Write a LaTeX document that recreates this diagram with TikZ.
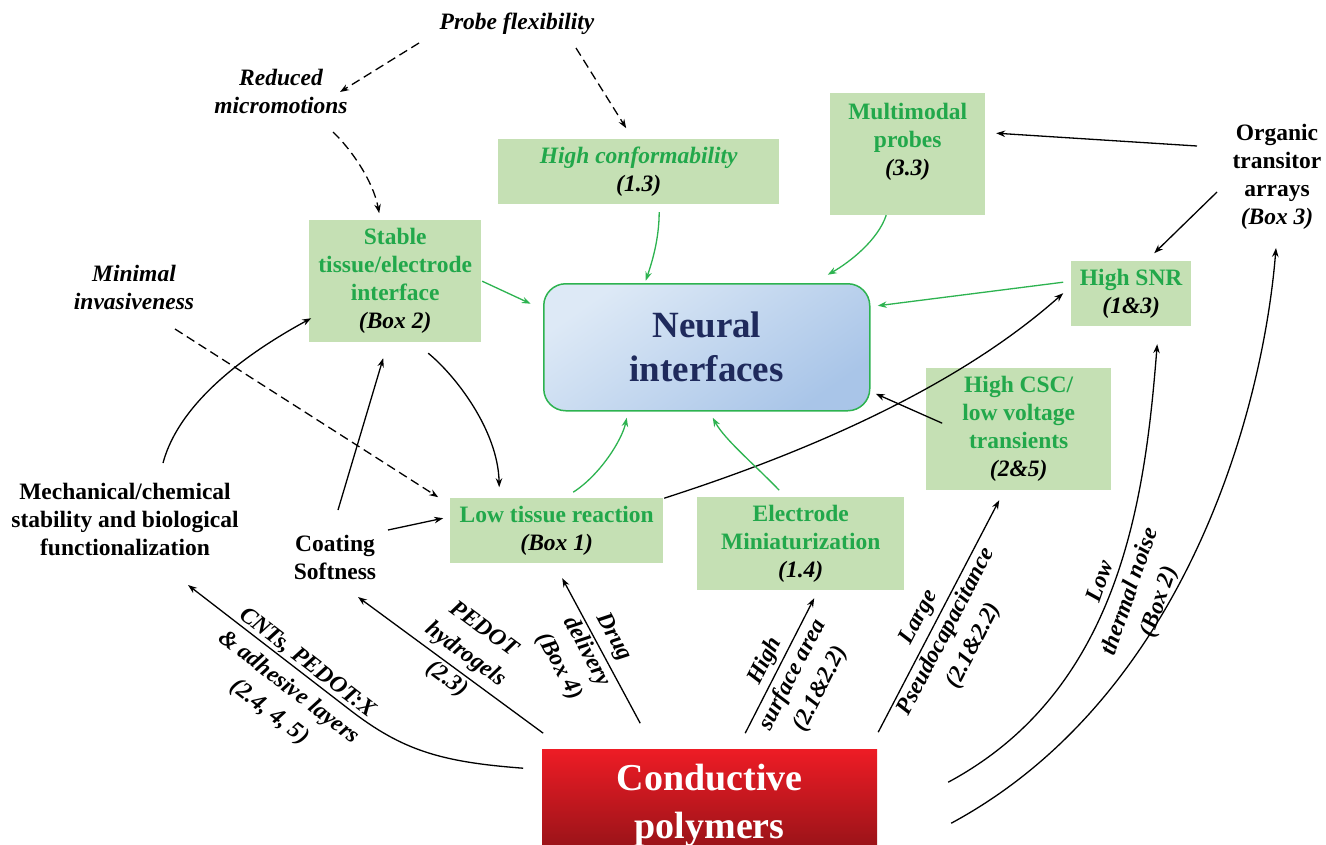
\documentclass[tikz,border=0pt]{standalone}
\usepackage{fontspec}
\setmainfont{Liberation Serif}
\usetikzlibrary{arrows.meta,calc}
\definecolor{boxgreen}{HTML}{C5E0B4}
\definecolor{txtgreen}{HTML}{22A84B}
\definecolor{lineGreen}{HTML}{2DB350}
\definecolor{navy}{HTML}{1F2A5C}
\definecolor{nbTop}{HTML}{DDE9F6}
\definecolor{nbBot}{HTML}{A9C5E8}
\definecolor{cpTop}{HTML}{EE1C25}
\definecolor{cpBot}{HTML}{8E1217}
\newcommand{\rf}[1]{{\color{black}\itshape #1}}
\begin{document}
\begin{tikzpicture}[x=1pt,y=-1pt,
  base/.style={font=\fontsize{23.5}{28}\selectfont\bfseries, align=center, inner sep=0pt},
  txt/.style={base},
  itxt/.style={base, font=\fontsize{23.5}{28}\selectfont\bfseries\itshape},
  ltxt/.style={base, font=\fontsize{23.5}{31}\selectfont\bfseries\itshape},
  gbox/.style 2 args={base, fill=boxgreen, text=txtgreen, anchor=north west, minimum width=#1, minimum height=#2},
  nbox/.style={base, anchor=north west, minimum width=326pt, minimum height=127pt, rounded corners=22pt, draw=lineGreen, line width=1.5pt, top color=nbTop, bottom color=nbBot, shading angle=35, text=navy, font=\fontsize{37}{44}\selectfont\bfseries},
  cbox/.style={base, anchor=north west, minimum width=335pt, minimum height=112pt, top color=cpTop, middle color=cpTop, bottom color=cpBot, text=white, font=\fontsize{38}{48}\selectfont\bfseries},
  arr/.style={-{Stealth[length=9pt,width=6.5pt]}, line width=1.3pt},
  garr/.style={arr, draw=lineGreen},
  darr/.style={arr, dash pattern=on 9pt off 5pt}
]
\clip (0,0) rectangle (1326,844);
\fill[white] (0,0) rectangle (1326,844);

% nodes
\node[itxt] (probe) at (517,24) {Probe flexibility};
\node[itxt] (reduced) at (281,91) {Reduced\\micromotions};
\node[itxt] (minimal) at (134,287) {Minimal\\invasiveness};
\node[gbox={281pt}{65pt}] (highconf) at (498,139) {\itshape High conformability\\\rf{(1.3)}};
\node[gbox={155pt}{122pt}] (multi) at (830,93) {};
\node[base, text=txtgreen, anchor=north] (multitxt) at ($(multi.north)+(0,10)$) {Multimodal\\probes\\\rf{(3.3)}};
\node[gbox={172pt}{122pt}] (stable) at (309,220) {Stable\\tissue/electrode\\interface\\\rf{(Box 2)}};
\node[nbox] (neural) at (543,283) {Neural\\interfaces};
\node[gbox={120pt}{65pt}] (snr) at (1071,261) {High SNR\\\rf{(1\&3)}};
\node[txt] (organic) at (1277,177) {Organic\\transitor\\arrays\\\textit{(Box 3)}};
\node[gbox={185pt}{122pt}] (csc) at (926,368) {High CSC/\\low voltage\\transients\\\rf{(2\&5)}};
\node[txt] (mech) at (125,519.5) {Mechanical/chemical\\stability and biological\\functionalization};
\node[txt] (coating) at (335,557) {Coating\\Softness};
\node[gbox={213pt}{65pt}] (low) at (450,498) {Low tissue reaction\\\rf{(Box 1)}};
\node[gbox={207pt}{93pt}] (electrode) at (697,497) {Electrode\\Miniaturization\\\rf{(1.4)}};
\node[cbox] (cond) at (542,749) {Conductive\\polymers};

% dashed connectors
\draw[darr] ($(probe)+(-98,19)$) -- ($(reduced)+(59,1)$);
\draw[darr] ($(probe)+(59,24)$) -- ($(highconf)+(-12.5,-43.5)$);
\draw[darr] ($(reduced)+(52,41)$) .. controls (350,148) and (373,180) .. ($(stable)+(-16,-68)$);
\draw[darr] ($(minimal)+(41,42)$) -- ($(low)+(-118.5,-33.5)$);

% black connectors
\draw[arr] ($(mech)+(38,-56.5)$) .. controls (180,400) and (251,351) .. ($(stable)+(-84,37)$);
\draw[arr] ($(coating)+(3,-47)$) -- ($(stable)+(-12,77)$);
\draw[arr] ($(coating)+(53,-27)$) -- ($(low)+(-113.5,-12.5)$);
\draw[arr] ($(stable)+(33,72)$) .. controls (455,375) and (498,430) .. ($(low)+(-57.5,-43.5)$);
\draw[arr] ($(low)+(107.5,-32.5)$) .. controls (814,450) and (960,385) .. ($(snr)+(-68,-0.5)$);
\draw[arr] ($(csc)+(-76.5,-6)$) -- ($(neural)+(169,46.5)$);
\draw[arr] ($(organic)+(-80,-31)$) -- ($(multi)+(88.5,-21)$);
\draw[arr] ($(organic)+(-60,15)$) -- ($(snr)+(23,-40.5)$);
\draw[arr] ($(cond)+(238.5,-23)$) .. controls (1120,690) and (1145,500) .. ($(snr)+(26,50.5)$);
\draw[arr] ($(cond)+(241.5,18)$) .. controls (1180,700) and (1262,420) .. ($(organic)+(-1,71)$);
\draw[arr] ($(cond)+(-186.5,-37)$) .. controls (440,762) and (402,750) .. (350,710) -- ($(mech)+(63,65.5)$);
\draw[arr] ($(cond)+(-166.5,-72)$) -- ($(coating)+(23,40)$);
\draw[arr] ($(cond)+(-69.5,-82)$) -- ($(low)+(5.5,47.5)$);
\draw[arr] ($(cond)+(35.5,-72)$) -- ($(electrode)+(13.5,54.5)$);
\draw[arr] ($(cond)+(168.5,-73)$) -- ($(csc)+(-19.5,71)$);

% green connectors
\draw[garr] ($(low)+(16.5,-38.5)$) .. controls (600,475) and (622,440) .. ($(neural)+(-80,70.5)$);
\draw[garr] ($(electrode)+(-21.5,-53.5)$) .. controls (755,465) and (725,440) .. ($(neural)+(6,70.5)$);
\draw[garr] ($(stable)+(87,0)$) -- ($(neural)+(-176,-43.5)$);
\draw[garr] ($(highconf)+(20.5,40.5)$) .. controls (659,240) and (652,262) .. ($(neural)+(-61,-66.5)$);
\draw[garr] ($(multi)+(-21.5,61)$) .. controls (878,240) and (850,262) .. ($(neural)+(121,-72.5)$);
\draw[garr] ($(snr)+(-68,-11.5)$) -- ($(neural)+(171,-41.5)$);

% connector labels
\node[ltxt, rotate=-37.6] (lcnt) at (288,688) {CNTs, PEDOT:X\\\& adhesive layers\\(2.4, 4, 5)};
\node[ltxt, rotate=-36.3] (lped) at (465,655) {PEDOT\\hydrogels\\(2.3)};
\node[ltxt, rotate=-61.7] (ldrug) at (586,652) {Drug\\delivery\\(Box 4)};
\node[ltxt, rotate=62.9] (lsurf) at (793,675) {High\\surface area\\(2.1\&2.2)};
\node[ltxt, rotate=62.5] (lpseudo) at (947,632) {Large\\Pseudocapacitance\\(2.1\&2.2)};
\node[ltxt, rotate=71] (lnoise) at (1131,592) {Low\\thermal noise\\(Box 2)};
\end{tikzpicture}
\end{document}
